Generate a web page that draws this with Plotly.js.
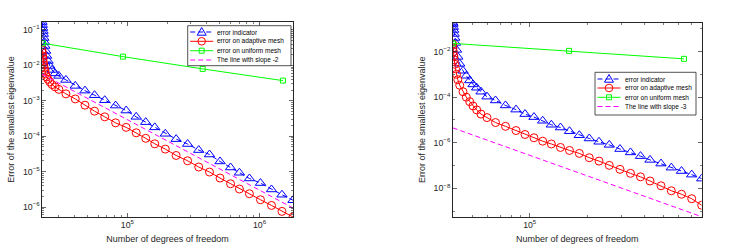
<!DOCTYPE html>
<html>
<head>
<meta charset="utf-8">
<script src="https://cdn.plot.ly/plotly-3.0.1.min.js"></script>
<style>html,body{margin:0;padding:0;background:#fff;}#chart{width:733px;height:248px;}</style>
</head>
<body>
<div id="chart"></div>
<script>
// ---------- Left panel data ----------
var dofL = [22620, 22740, 22870, 23030, 23150, 23360, 23560, 23770, 24100, 24520, 25130, 25930, 26950, 28400, 30350, 34300, 40360, 47810, 56460, 67480, 81500, 97930, 116650, 137700, 161200, 193700, 233900, 285500, 346700, 417900, 502200, 603400, 703900, 838000, 1016000, 1231000, 1477000, 1790000];
var estL = [0.168, 0.1384, 0.1138, 0.0937, 0.0771, 0.0595, 0.0459, 0.0354, 0.0256, 0.0185, 0.01337, 0.00966, 0.00745, 0.00594, 0.00505, 0.00389, 0.00264, 0.00194, 0.00144, 0.00104, 7.34e-4, 5.31e-4, 3.53e-4, 2.50e-4, 1.78e-4, 1.17e-4, 8.29e-5, 6.03e-5, 4.06e-5, 3.05e-5, 1.94e-5, 1.31e-5, 9.30e-6, 6.42e-6, 4.76e-6, 3.14e-6, 2.23e-6, 1.56e-6];
var errL = [0.0273, 0.02246, 0.01849, 0.01522, 0.01253, 0.01031, 0.00849, 0.00698, 0.00575, 0.00473, 0.00402, 0.00342, 0.00287, 0.00247, 0.00210, 0.00157, 0.00113, 7.53e-4, 5.10e-4, 3.53e-4, 2.39e-4, 1.78e-4, 1.25e-4, 8.73e-5, 6.11e-5, 4.33e-5, 2.86e-5, 2.03e-5, 1.35e-5, 9.73e-6, 6.59e-6, 4.55e-6, 3.23e-6, 2.38e-6, 1.61e-6, 1.11e-6, 7.54e-7, 5.24e-7];
var dofUL = [23000, 92600, 371200, 1502000];
var errUL = [0.0422, 0.01767, 0.00795, 0.00372];
var slopeXL = [22620, 1790000];
var slopeYL = [5.67e-3, 9.40e-7];

// ---------- Right panel data ----------
var dofR = [39620, 39770, 39910, 40100, 40350, 40640, 40980, 41490, 42130, 43110, 44850, 46660, 48610, 50580, 52870, 55680, 59840, 66300, 74750, 84830, 94510, 105300, 116900, 129700, 144800, 161400, 181600, 204700, 230100, 260400, 296100, 336000, 379000, 424800, 484900, 548800, 620400, 701500, 791000];
var estR = [0.185, 0.1625, 0.1201, 0.0888, 0.0594, 0.0397, 0.0240, 0.01187, 0.00587, 0.00290, 0.001434, 8.67e-4, 5.40e-4, 3.61e-4, 2.59e-4, 1.73e-4, 1.047e-4, 7.14e-5, 4.32e-5, 2.83e-5, 1.80e-5, 1.330e-5, 9.17e-6, 6.13e-6, 4.63e-6, 3.19e-6, 2.13e-6, 1.529e-6, 1.097e-6, 8.03e-7, 5.26e-7, 3.74e-7, 2.57e-7, 1.757e-7, 1.211e-7, 8.01e-8, 5.69e-8, 3.96e-8, 2.65e-8];
var errR = [0.0217, 0.01451, 0.00970, 0.00649, 0.00434, 0.00276, 0.001753, 1.008e-3, 5.80e-4, 3.33e-4, 1.73e-4, 9.96e-5, 6.33e-5, 4.11e-5, 2.75e-5, 1.80e-5, 1.265e-5, 7.65e-6, 5.22e-6, 3.42e-6, 2.29e-6, 1.641e-6, 1.165e-6, 8.79e-7, 6.18e-7, 4.57e-7, 3.38e-7, 2.19e-7, 1.557e-7, 1.010e-7, 6.75e-8, 4.52e-8, 3.17e-8, 2.08e-8, 1.284e-8, 7.76e-9, 5.46e-9, 3.47e-9, 1.80e-9];
var dofUR = [39700, 160400, 639300];
var errUR = [0.0228, 0.01073, 0.0048];
var slopeXR = [39620, 791000];
var slopeYR = [4.49e-6, 5.64e-10];

var names = ['error indicator', 'error on adaptive mesh', 'error on uniform mesh'];
var slopeNameL = 'The line with slope -2';
var slopeNameR = 'The line with slope -3';
var xTitle = 'Number of degrees of freedom';
var yTitle = 'Error of the smallest eigenvalue';

var BLUE = 'rgb(0,0,255)', RED = 'rgb(255,0,0)', GREEN = 'rgb(0,255,0)', MAG = 'rgb(255,0,255)';
var FONT = 'Liberation Sans, Arial, Helvetica, sans-serif';
var TXT = '#262626';
var DASH = '5px,3px';

function traces(xa, ya, dof, est, err, dofU, errU, sx, sy, sName) {
  return [
    {x: dof, y: est, xaxis: xa, yaxis: ya, name: names[0], mode: 'lines+markers',
     line: {color: BLUE, width: 1, dash: DASH},
     marker: {symbol: 'triangle-up-open', size: 9, color: BLUE, line: {width: 1, color: BLUE}}},
    {x: dof, y: err, xaxis: xa, yaxis: ya, name: names[1], mode: 'lines+markers',
     line: {color: RED, width: 1},
     marker: {symbol: 'circle-open', size: 8, color: RED, line: {width: 1, color: RED}}},
    {x: dofU, y: errU, xaxis: xa, yaxis: ya, name: names[2], mode: 'lines+markers',
     line: {color: GREEN, width: 1},
     marker: {symbol: 'square-open', size: 5, color: GREEN, line: {width: 1, color: GREEN}}},
    {x: sx, y: sy, xaxis: xa, yaxis: ya, name: sName, mode: 'lines',
     line: {color: MAG, width: 1, dash: DASH}}
  ];
}

var data = [].concat(
  traces('x', 'y', dofL, estL, errL, dofUL, errUL, slopeXL, slopeYL, slopeNameL),
  traces('x2', 'y2', dofR, estR, errR, dofUR, errUR, slopeXR, slopeYR, slopeNameR)
);

function lg(a) { return Math.log10(a); }
function minOf() { var m = Infinity; for (var i = 0; i < arguments.length; i++) m = Math.min(m, Math.min.apply(null, arguments[i])); return m; }
function maxOf() { var m = -Infinity; for (var i = 0; i < arguments.length; i++) m = Math.max(m, Math.max.apply(null, arguments[i])); return m; }

var W = 733, H = 248;
function axBase() {
  return {
    type: 'log', showline: true, linecolor: '#262626', linewidth: 1, mirror: 'allticks',
    ticks: 'inside', ticklen: 4, tickcolor: '#262626', tickwidth: 0.7,
    showgrid: false, zeroline: false, exponentformat: 'power',
    tickfont: {family: FONT, size: 7, color: TXT},
    minor: {ticks: 'inside', ticklen: 2, tickcolor: '#262626', tickwidth: 0.6, showgrid: false}
  };
}

var xaxis = Object.assign(axBase(), {
  domain: [42 / W, 293 / W], anchor: 'y',
  range: [lg(minOf(dofL)), lg(maxOf(dofL))], dtick: 1,
  title: {text: xTitle, font: {family: FONT, size: 9, color: TXT}, standoff: 6}
});
xaxis.minor.dtick = 'D1';
var yaxis = Object.assign(axBase(), {
  domain: [1 - 217 / H, 1 - 22 / H], anchor: 'x',
  range: [lg(minOf(errL, slopeYL)), lg(maxOf(estL))], dtick: 1,
  title: {text: yTitle, font: {family: FONT, size: 9, color: TXT}, standoff: 6}
});
yaxis.minor.dtick = 'D1';
var xaxis2 = Object.assign(axBase(), {
  domain: [452.7 / W, 701.7 / W], anchor: 'y2',
  range: [lg(minOf(dofR)), lg(maxOf(dofR))], dtick: 1,
  title: {text: xTitle, font: {family: FONT, size: 9, color: TXT}, standoff: 6}
});
xaxis2.minor.dtick = 'D1';
var yaxis2 = Object.assign(axBase(), {
  domain: [1 - 216.7 / H, 1 - 22.7 / H], anchor: 'x2',
  range: [lg(minOf(errR, slopeYR)), lg(maxOf(estR))], tick0: 0, dtick: 2,
  title: {text: yTitle, font: {family: FONT, size: 9, color: TXT}, standoff: 6}
});
yaxis2.minor.dtick = 1;

// ---------- Hand-built compact legends (MATLAB style) ----------
var shapes = [], annotations = [];
function px(x) { return x / W; }
function py(y) { return 1 - y / H; }
function addLegend(x0, y0, x1, y1, rows, labels) {
  shapes.push({type: 'rect', xref: 'paper', yref: 'paper', x0: px(x0), x1: px(x1), y0: py(y0), y1: py(y1),
               fillcolor: '#fff', line: {color: '#262626', width: 0.8}, layer: 'above'});
  var ls = x0 + 2.5, le = x0 + 25.5, mc = (ls + le) / 2, tx = x0 + 27.5;
  var styles = [
    {c: BLUE, dash: DASH, m: 'tri'}, {c: RED, dash: 'solid', m: 'circ'},
    {c: GREEN, dash: 'solid', m: 'sq'}, {c: MAG, dash: DASH, m: null}
  ];
  rows.forEach(function (ry, i) {
    var s = styles[i];
    shapes.push({type: 'line', xref: 'paper', yref: 'paper', x0: px(ls), x1: px(le), y0: py(ry), y1: py(ry),
                 line: {color: s.c, width: 1, dash: s.dash}, layer: 'above'});
    if (s.m === 'tri') {
      var p = 'M ' + px(mc) + ' ' + py(ry - 4.5) + ' L ' + px(mc - 4.5) + ' ' + py(ry + 3.2) + ' L ' + px(mc + 4.5) + ' ' + py(ry + 3.2) + ' Z';
      shapes.push({type: 'path', xref: 'paper', yref: 'paper', path: p, fillcolor: 'rgba(0,0,0,0)', line: {color: s.c, width: 1}, layer: 'above'});
    } else if (s.m === 'circ') {
      shapes.push({type: 'circle', xref: 'paper', yref: 'paper', x0: px(mc - 3.8), x1: px(mc + 3.8), y0: py(ry + 3.8), y1: py(ry - 3.8),
                   fillcolor: 'rgba(0,0,0,0)', line: {color: s.c, width: 1}, layer: 'above'});
    } else if (s.m === 'sq') {
      shapes.push({type: 'rect', xref: 'paper', yref: 'paper', x0: px(mc - 2.5), x1: px(mc + 2.5), y0: py(ry + 2.5), y1: py(ry - 2.5),
                   fillcolor: 'rgba(0,0,0,0)', line: {color: s.c, width: 1}, layer: 'above'});
    }
    annotations.push({xref: 'paper', yref: 'paper', x: px(tx), y: py(ry), xanchor: 'left', yanchor: 'middle',
                      text: labels[i], showarrow: false, font: {family: FONT, size: 6.5, color: '#000'}});
  });
}
addLegend(187.7, 25.7, 291, 65.7, [32, 41.3, 50.7, 60], names.concat([slopeNameL]));
addLegend(595, 72.3, 696, 115, [79, 88, 97.3, 106.5], names.concat([slopeNameR]));

var layout = {
  width: W, height: H, margin: {l: 0, r: 0, t: 0, b: 0},
  paper_bgcolor: '#fff', plot_bgcolor: '#fff', showlegend: false,
  font: {family: FONT, color: TXT},
  xaxis: xaxis, yaxis: yaxis, xaxis2: xaxis2, yaxis2: yaxis2,
  shapes: shapes, annotations: annotations
};

Plotly.newPlot('chart', data, layout, {displayModeBar: false, staticPlot: true});
</script>
</body>
</html>
